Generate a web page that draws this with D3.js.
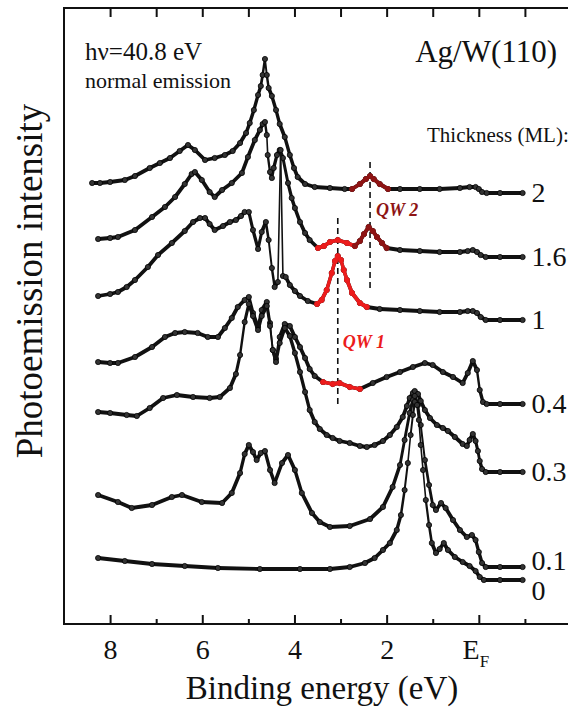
<!DOCTYPE html>
<html>
<head>
<meta charset="utf-8">
<script src="https://cdn.jsdelivr.net/npm/d3@7"></script>
<style>
  html, body { margin: 0; padding: 0; background: #fff; }
  svg { display: block; font-family: "Liberation Serif", "Times New Roman", Times, serif; }
</style>
</head>
<body>
<svg id="chart" width="568" height="715"></svg>
<script>
// Ag film thickness (ML) for each spectrum, top to bottom
const thickness = ["2", "1.6", "1", "0.4", "0.3", "0.1", "0"];

// Photoemission spectra: [binding energy (eV), intensity (arb. units, stacked)]
const spec2 = [[8.39,441],[8.22,441],[8.00,442],[7.68,444],[7.46,448],[7.14,456],[6.92,461],[6.70,466],[6.49,473],[6.31,479],[6.16,474],[5.94,464],[5.73,466],[5.51,469],[5.34,473],[5.18,481],[5.05,491],[4.97,501],[4.88,514],[4.79,529],[4.73,538],[4.69,549],[4.64,565],[4.60,549],[4.56,536],[4.49,528],[4.40,514],[4.32,500],[4.21,487],[4.10,469],[4.01,456],[3.93,447],[3.77,440],[3.56,437],[3.23,436],[2.91,435],[2.75,435],[2.58,440],[2.45,445],[2.36,448],[2.28,445],[2.15,440],[1.97,435],[1.71,435],[1.28,435],[0.85,435],[0.41,436],[0.20,437],[0.07,437],[0.00,435],[-0.07,432],[-0.17,431],[-0.46,431],[-0.95,431]];
const spec16 = [[8.26,385],[8.00,386],[7.83,387],[7.46,394],[7.09,407],[6.81,417],[6.59,427],[6.38,440],[6.23,450],[6.16,452],[6.01,444],[5.84,432],[5.73,427],[5.57,434],[5.36,441],[5.14,451],[5.01,467],[4.86,484],[4.75,494],[4.69,500],[4.64,502],[4.60,489],[4.58,469],[4.53,452],[4.49,446],[4.45,456],[4.38,469],[4.32,474],[4.25,466],[4.14,441],[4.06,426],[3.99,416],[3.88,402],[3.77,391],[3.67,384],[3.49,376],[3.36,378],[3.23,382],[3.06,384],[2.86,381],[2.69,378],[2.58,383],[2.49,390],[2.39,397],[2.30,393],[2.21,387],[2.10,381],[2.00,376],[1.71,374],[1.28,373],[0.85,372],[0.41,372],[0.24,373],[0.13,374],[0.04,372],[-0.04,369],[-0.15,367],[-0.46,367],[-0.95,367]];
const spec1 = [[8.26,328],[8.00,330],[7.83,332],[7.64,337],[7.46,344],[7.18,357],[6.96,369],[6.66,381],[6.38,393],[6.20,402],[6.05,406],[5.94,406],[5.84,400],[5.73,394],[5.55,398],[5.40,402],[5.27,404],[5.16,408],[5.08,412],[4.99,412],[4.90,394],[4.79,375],[4.71,392],[4.62,402],[4.56,384],[4.49,356],[4.43,337],[4.36,342],[4.30,474],[4.25,348],[4.19,347],[4.10,339],[3.99,333],[3.88,328],[3.71,323],[3.51,320],[3.41,324],[3.30,334],[3.19,351],[3.12,363],[3.06,368],[2.99,364],[2.93,354],[2.86,344],[2.75,331],[2.58,321],[2.43,317],[2.15,315],[1.71,314],[1.28,313],[0.85,312],[0.41,312],[0.24,313],[0.13,313],[0.04,311],[-0.04,307],[-0.15,304],[-0.46,304],[-0.95,304]];
const spec04 = [[8.26,262],[8.00,261],[7.83,261],[7.46,267],[7.09,277],[6.81,287],[6.59,291],[6.38,292],[6.10,291],[5.88,287],[5.66,287],[5.51,296],[5.36,306],[5.23,317],[5.08,324],[4.99,327],[4.90,311],[4.79,297],[4.71,314],[4.60,322],[4.53,301],[4.47,274],[4.40,265],[4.32,287],[4.21,300],[4.10,298],[3.99,287],[3.88,277],[3.77,266],[3.67,255],[3.56,248],[3.38,242],[3.17,240],[3.02,241],[2.80,237],[2.58,235],[2.30,241],[2.00,247],[1.71,252],[1.43,257],[1.17,261],[1.00,259],[0.78,252],[0.56,247],[0.35,241],[0.24,251],[0.13,263],[0.04,254],[-0.02,234],[-0.09,222],[-0.17,220],[-0.46,220],[-0.95,220]];
const spec03 = [[8.26,212],[8.00,211],[7.64,209],[7.42,208],[7.14,216],[6.85,226],[6.55,229],[6.20,227],[5.84,226],[5.62,227],[5.40,236],[5.27,250],[5.18,269],[5.08,302],[4.99,320],[4.90,308],[4.79,294],[4.71,308],[4.60,318],[4.53,298],[4.47,274],[4.40,262],[4.32,281],[4.21,296],[4.10,288],[3.99,271],[3.88,252],[3.77,232],[3.67,214],[3.56,202],[3.45,195],[3.30,189],[3.17,186],[3.02,183],[2.80,181],[2.58,178],[2.43,177],[2.26,179],[2.08,183],[1.93,189],[1.78,197],[1.65,207],[1.56,218],[1.50,226],[1.43,231],[1.39,233],[1.32,230],[1.26,223],[1.17,214],[1.06,206],[0.91,199],[0.78,196],[0.67,193],[0.52,187],[0.35,180],[0.26,178],[0.20,184],[0.13,190],[0.07,183],[0.02,173],[-0.02,163],[-0.07,155],[-0.15,152],[-0.46,152],[-0.95,152]];
const spec01 = [[8.26,129],[7.83,122],[7.53,116],[7.09,119],[6.66,127],[6.44,129],[6.01,122],[5.57,121],[5.36,131],[5.18,151],[5.08,170],[4.99,179],[4.90,172],[4.82,164],[4.73,171],[4.64,173],[4.53,154],[4.43,141],[4.27,161],[4.14,169],[3.99,154],[3.84,131],[3.62,111],[3.45,102],[3.23,97],[2.80,98],[2.36,105],[2.08,117],[1.87,137],[1.71,159],[1.61,184],[1.50,211],[1.43,224],[1.39,228],[1.32,219],[1.26,199],[1.17,164],[1.08,139],[1.00,119],[0.93,114],[0.82,121],[0.72,116],[0.56,104],[0.41,94],[0.26,87],[0.15,89],[0.07,84],[0.00,72],[-0.07,61],[-0.15,57],[-0.46,57],[-0.95,57]];
const spec0 = [[8.26,66],[7.68,63],[7.09,60],[6.38,58],[5.66,56],[4.75,55],[3.88,55],[3.23,55],[2.80,57],[2.47,61],[2.26,66],[2.08,74],[1.93,81],[1.78,94],[1.69,109],[1.61,134],[1.54,161],[1.48,189],[1.43,209],[1.39,222],[1.34,219],[1.30,204],[1.26,179],[1.21,154],[1.15,124],[1.08,99],[1.02,81],[0.93,71],[0.85,75],[0.76,81],[0.67,74],[0.52,67],[0.35,62],[0.20,58],[0.07,53],[-0.02,47],[-0.11,44],[-0.46,44],[-0.95,44]];
const spectra = [spec2, spec16, spec1, spec04, spec03, spec01, spec0];

// Quantum-well state features: [thickness, high E, low E, state]
const qwSegments = [
  ["2",   2.75, 1.97, "QW 2"],
  ["1.6", 3.49, 2.69, "QW 1"],
  ["1.6", 2.69, 2.00, "QW 2"],
  ["1",   3.51, 2.43, "QW 1"],
  ["0.4", 3.38, 2.58, "QW 1"]
];

// Guides through the QW peaks: name, energy, intensity span
const qwNames  = ["QW 1", "QW 2"];
const qwEnergy = [3.06, 2.36];
const qwUpper  = [406, 462];
const qwLower  = [219, 334];

// Axis ticks (eV)
const majorTicks = [8, 6, 4, 2, 0];
const minorTicks = [7, 5, 3, 1, -1];
const topTicks   = [8, 7, 6, 5, 4, 3, 2, 1, 0, -1];

// ---------------------------------------------------------------
const svg = d3.select("#chart");
const frame = { left: 64, top: 8, bottom: 624, right: 571 };

const x = d3.scaleLinear().domain([9, -2]).range([frame.left, frame.right]);
const y = d3.scaleLinear().domain([0, 616]).range([frame.bottom, frame.top]);

const qwColor = { "QW 1": "#ec1c1c", "QW 2": "#8e1414" };
const ink = "#111";

// frame (right side runs off the page)
svg.append("path")
  .attr("d", `M${frame.right},${frame.top}H${frame.left}V${frame.bottom}H${frame.right}`)
  .attr("fill", "none").attr("stroke", ink).attr("stroke-width", 2);

// bottom ticks, pointing inward
const gMajor = svg.append("g").attr("transform", `translate(0,${frame.bottom})`)
  .call(d3.axisBottom(x).tickValues(majorTicks).tickSizeInner(-9).tickSizeOuter(0)
    .tickPadding(15).tickFormat(d => d === 0 ? "" : d3.format("d")(d)));
gMajor.select(".domain").remove();
gMajor.selectAll(".tick line").attr("stroke", ink).attr("stroke-width", 2);
gMajor.selectAll(".tick text").attr("font-family", "Liberation Serif, serif")
  .attr("font-size", 28).attr("fill", ink);

const gMinor = svg.append("g").attr("transform", `translate(0,${frame.bottom})`)
  .call(d3.axisBottom(x).tickValues(minorTicks).tickSizeInner(-5).tickSizeOuter(0).tickFormat(""));
gMinor.select(".domain").remove();
gMinor.selectAll(".tick line").attr("stroke", ink).attr("stroke-width", 2);

// top ticks
const gTop = svg.append("g").attr("transform", `translate(0,${frame.top})`)
  .call(d3.axisTop(x).tickValues(topTicks).tickSizeInner(-9).tickSizeOuter(0).tickFormat(""));
gTop.select(".domain").remove();
gTop.selectAll(".tick line").attr("stroke", ink).attr("stroke-width", 2);

// Fermi level label E_F
const ef = svg.append("text").attr("x", x(0) - 3).attr("y", frame.bottom + 35)
  .attr("text-anchor", "middle").attr("font-size", 28).attr("fill", ink);
ef.append("tspan").text("E");
ef.append("tspan").attr("font-size", 17).attr("dy", 8).text("F");

// axis titles
svg.append("text").attr("x", 322).attr("y", 699).attr("text-anchor", "middle")
  .attr("font-size", 33).attr("fill", ink).text("Binding energy (eV)");
svg.append("text").attr("transform", "translate(42,281) rotate(-90)")
  .attr("text-anchor", "middle").attr("font-size", 37).attr("fill", ink)
  .text("Photoemission intensity");

// dashed guides through the QW peaks
qwNames.forEach((name, i) => {
  svg.append("line")
    .attr("x1", x(qwEnergy[i])).attr("x2", x(qwEnergy[i]))
    .attr("y1", y(qwUpper[i])).attr("y2", y(qwLower[i]))
    .attr("stroke", ink).attr("stroke-width", 1.6).attr("stroke-dasharray", "6,4");
});

// spectra: dense flat stretches read as a thick bead chain, steep stretches thinner
function segWidth(a, b) {
  const dx = Math.abs(x(b[0]) - x(a[0])) || 0.1;
  const slope = Math.abs(y(b[1]) - y(a[1])) / dx;
  return 3.8 - 2.2 * Math.min(1, Math.max(0, (slope - 2) / 8));
}

function drawTrace(g, pts, color) {
  g.selectAll(null).data(d3.pairs(pts)).enter().append("line")
    .attr("x1", d => x(d[0][0])).attr("y1", d => y(d[0][1]))
    .attr("x2", d => x(d[1][0])).attr("y2", d => y(d[1][1]))
    .attr("stroke", color).attr("stroke-linecap", "round")
    .attr("stroke-width", d => segWidth(d[0], d[1]));
  g.selectAll(null).data(pts).enter().append("circle")
    .attr("cx", d => x(d[0])).attr("cy", d => y(d[1])).attr("r", 2.6)
    .attr("fill", color === ink ? "#333" : color)
    .attr("stroke", color === ink ? "#000" : color).attr("stroke-width", 0.8);
}

const gSpec = svg.append("g");
spectra.forEach((pts, i) => {
  const g = gSpec.append("g").attr("class", "spectrum");
  drawTrace(g, pts, ink);
  qwSegments.filter(s => s[0] === thickness[i]).forEach(s => {
    const seg = pts.filter(d => d[0] <= s[1] + 1e-6 && d[0] >= s[2] - 1e-6);
    drawTrace(g, seg, qwColor[s[3]]);
  });
});

// thickness labels at the end of each spectrum
const labelNudge = { "0.1": -6, "0": 11 };
svg.append("text").attr("x", 427).attr("y", 142).attr("font-size", 21).attr("fill", ink)
  .text("Thickness (ML):");
spectra.forEach((pts, i) => {
  const last = pts[pts.length - 1];
  svg.append("text")
    .attr("x", x(last[0]) + 9)
    .attr("y", y(last[1]) + 9 + (labelNudge[thickness[i]] || 0))
    .attr("font-size", 28).attr("fill", ink).text(thickness[i]);
});

// QW labels
const qwLabelPos = { "QW 1": { dx: 5, yPx: 348 }, "QW 2": { dx: 6, yPx: 216 } };
qwNames.forEach((name, i) => {
  svg.append("text")
    .attr("x", x(qwEnergy[i]) + qwLabelPos[name].dx).attr("y", qwLabelPos[name].yPx)
    .attr("font-size", 18).attr("font-style", "italic").attr("font-weight", "bold")
    .attr("fill", qwColor[name]).text(name);
});

// experiment annotations
svg.append("text").attr("x", 85).attr("y", 60).attr("font-size", 25).attr("fill", ink)
  .text("h\u03BD=40.8 eV");
svg.append("text").attr("x", 85).attr("y", 88).attr("font-size", 22).attr("fill", ink)
  .text("normal emission");
svg.append("text").attr("x", 557).attr("y", 62).attr("text-anchor", "end")
  .attr("font-size", 31).attr("fill", ink).text("Ag/W(110)");
</script>
</body>
</html>
